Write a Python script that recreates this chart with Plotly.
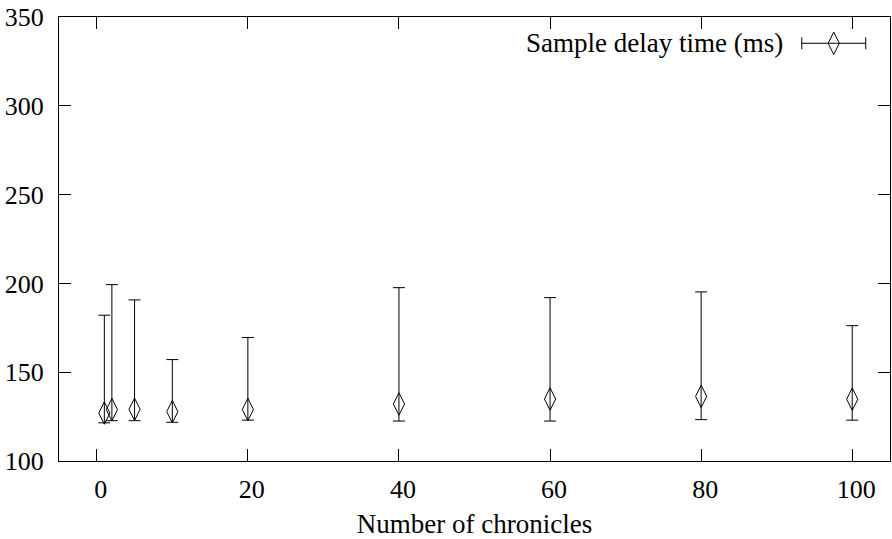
import plotly.graph_objects as go

# ---- data ----
chronicles = [1, 2, 5, 10, 20, 40, 60, 80, 100]
delay_mean = [127.0, 128.9, 129.1, 127.8, 129.0, 132.1, 134.9, 136.4, 134.8]
delay_high = [182.1, 199.3, 190.7, 157.1, 169.5, 197.6, 192.0, 195.2, 176.2]
delay_low = [121.5, 122.7, 122.7, 121.8, 123.0, 122.5, 122.5, 123.3, 123.0]
x_ticks = [0, 20, 40, 60, 80, 100]
y_ticks = [100, 150, 200, 250, 300, 350]
series_name = "Sample delay time (ms)"
x_title = "Number of chronicles"

err_plus = [h - m for h, m in zip(delay_high, delay_mean)]
err_minus = [m - l for m, l in zip(delay_mean, delay_low)]

FONT = "Liberation Serif, DejaVu Serif, serif"
FS = 26
FS_TEXT = 27

fig = go.Figure()
fig.add_trace(go.Scatter(
    x=chronicles, y=delay_mean, mode="markers", name=series_name,
    marker=dict(symbol="diamond-tall-open", size=16, color="black",
                line=dict(width=1, color="black")),
    error_y=dict(type="data", symmetric=False, array=err_plus,
                 arrayminus=err_minus, color="black", thickness=1, width=6),
    showlegend=False,
))

# legend sample drawn on a hidden overlay axis (gnuplot style key)
key_x, key_y, key_half = 0.9323, 0.9408, 0.0385
fig.add_trace(go.Scatter(
    x=[key_x], y=[key_y], mode="markers", xaxis="x2", yaxis="y2",
    marker=dict(symbol="diamond-tall-open", size=16, color="black",
                line=dict(width=1, color="black")),
    error_x=dict(type="constant", value=key_half, color="black",
                 thickness=1, width=6),
    showlegend=False, hoverinfo="skip",
))

fig.add_annotation(
    x=0.8736, y=key_y, xref="paper", yref="paper", text=series_name,
    showarrow=False, xanchor="right", yanchor="middle",
    font=dict(family=FONT, size=FS_TEXT, color="black"),
)

axis_common = dict(
    showline=True, linecolor="black", linewidth=1, mirror="allticks",
    ticks="inside", ticklen=12, tickwidth=1, tickcolor="black",
    showgrid=False, zeroline=False,
    tickfont=dict(family=FONT, size=FS, color="black"),
)

fig.update_layout(
    width=892, height=539,
    margin=dict(l=59, r=2, t=17, b=78),
    paper_bgcolor="white", plot_bgcolor="white",
    xaxis=dict(range=[-5, 105], tickvals=x_ticks,
               ticklabelshift=4, ticklabelstandoff=5,
               title=dict(text=x_title, standoff=14,
                          font=dict(family=FONT, size=FS_TEXT, color="black")),
               **axis_common),
    yaxis=dict(range=[100, 350], tickvals=y_ticks, ticklabelstandoff=9,
               **axis_common),
    xaxis2=dict(overlaying="x", range=[0, 1], visible=False),
    yaxis2=dict(overlaying="y", range=[0, 1], visible=False),
    showlegend=False,
)

fig.write_html("out.html")
